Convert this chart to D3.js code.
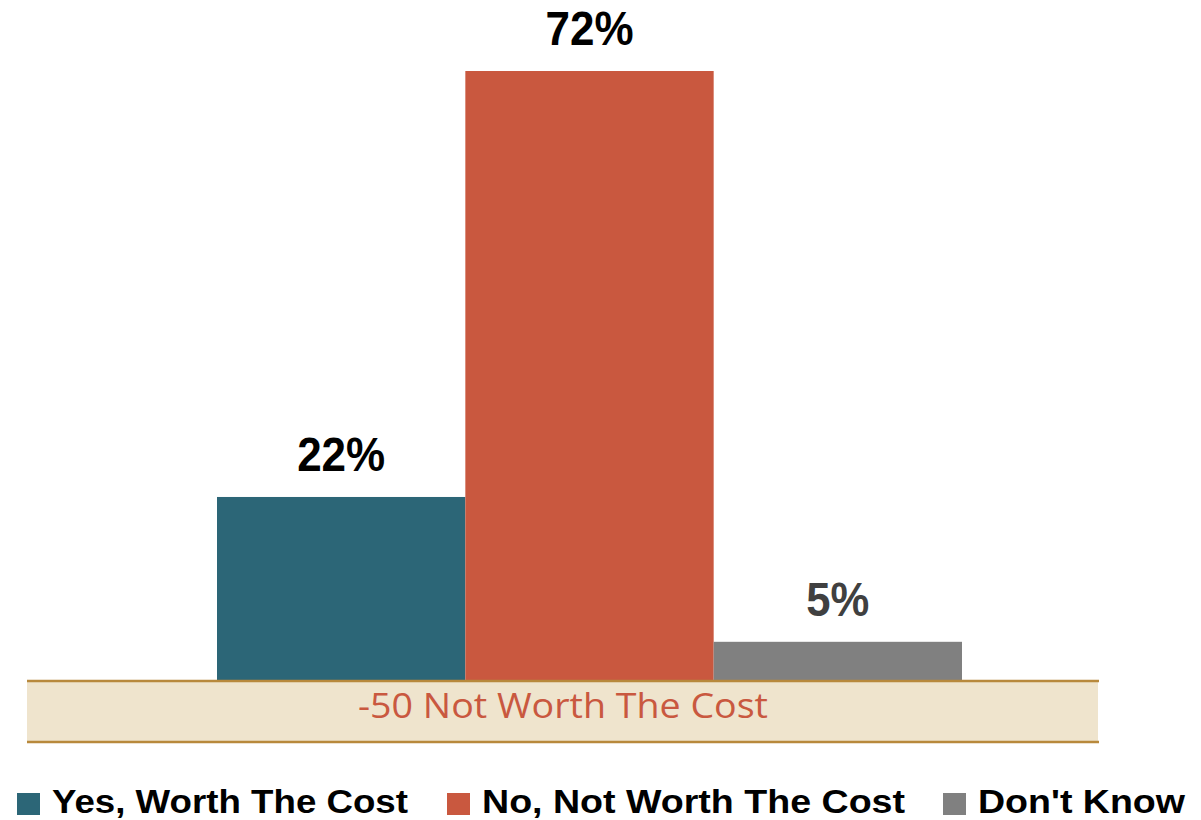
<!DOCTYPE html>
<html>
<head>
<meta charset="utf-8">
<script src="https://cdn.jsdelivr.net/npm/d3@7"></script>
<style>
  html, body { margin: 0; padding: 0; background: #ffffff; }
  svg { display: block; }
</style>
</head>
<body>
<svg id="chart" width="1201" height="820"></svg>
<script>
// ---- data ----
const categories = ["Yes, Worth The Cost", "No, Not Worth The Cost", "Don't Know"];
const values = [22, 72, 5];
const valueLabels = ["22%", "72%", "5%"];
const colors = ["#2C6677", "#C9583F", "#808080"];
const labelColors = ["#000000", "#000000", "#404040"];
const bandText = "-50 Not Worth The Cost";

// ---- layout ----
const svg = d3.select("#chart");
const FONT = "'Open Sans', 'Liberation Sans', sans-serif";
const FONT_B = "'Liberation Sans', Arial, sans-serif";

const x = d3.scaleBand().domain(categories).range([217, 962]).paddingInner(0).paddingOuter(0);
const y = d3.scaleLinear().domain([0, 72]).range([684.4, 71]);

// bars
svg.append("g").selectAll("rect")
  .data(values)
  .join("rect")
  .attr("x", (d, i) => x(categories[i]))
  .attr("width", x.bandwidth())
  .attr("y", d => y(d))
  .attr("height", d => y(0) - y(d))
  .attr("fill", (d, i) => colors[i]);

// data labels
const labelWidths = [88, 88, 63];
svg.append("g").selectAll("text")
  .data(values)
  .join("text")
  .attr("x", (d, i) => x(categories[i]) + x.bandwidth() / 2)
  .attr("y", d => y(d) - 26)
  .attr("text-anchor", "middle")
  .attr("font-family", FONT_B)
  .attr("font-weight", "bold")
  .attr("font-size", 48)
  .attr("fill", (d, i) => labelColors[i])
  .attr("textLength", (d, i) => labelWidths[i])
  .attr("lengthAdjust", "spacingAndGlyphs")
  .text((d, i) => valueLabels[i]);

// band under the axis
const band = svg.append("g");
band.append("rect")
  .attr("x", 27).attr("y", 681)
  .attr("width", 1071).attr("height", 61)
  .attr("fill", "#EFE4CD");
band.append("line")
  .attr("x1", 27).attr("x2", 1099).attr("y1", 681).attr("y2", 681)
  .attr("stroke", "#B8893C").attr("stroke-width", 2.5);
band.append("line")
  .attr("x1", 27).attr("x2", 1099).attr("y1", 742).attr("y2", 742)
  .attr("stroke", "#B8893C").attr("stroke-width", 2.5);
band.append("text")
  .attr("x", 563).attr("y", 718)
  .attr("text-anchor", "middle")
  .attr("font-family", FONT)
  .attr("font-size", 35)
  .attr("fill", "#C9583F")
  .attr("textLength", 410)
  .attr("lengthAdjust", "spacingAndGlyphs")
  .text(bandText);

// legend
const legendX = [17, 447, 943];
const legendTextW = [356, 423, 207];
const legend = svg.append("g");
categories.forEach((c, i) => {
  legend.append("rect")
    .attr("x", legendX[i]).attr("y", 793)
    .attr("width", 23).attr("height", 22)
    .attr("fill", colors[i]);
  legend.append("text")
    .attr("x", legendX[i] + 35).attr("y", 813)
    .attr("font-family", FONT_B)
    .attr("font-weight", "bold")
    .attr("font-size", 33)
    .attr("fill", "#000000")
    .attr("textLength", legendTextW[i])
    .attr("lengthAdjust", "spacingAndGlyphs")
    .text(c);
});
</script>
</body>
</html>
